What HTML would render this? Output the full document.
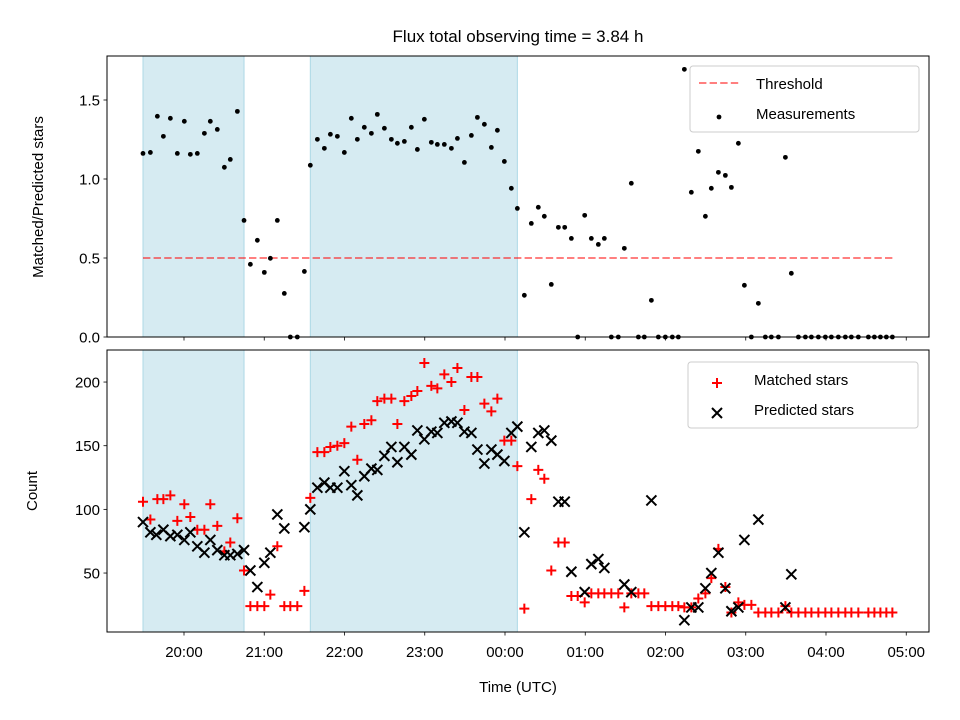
<!DOCTYPE html>
<html><head><meta charset="utf-8"><style>
body{margin:0;background:#fff;}
svg{display:block;font-family:"Liberation Sans","DejaVu Sans",sans-serif;}
</style></head><body>
<svg id="chart" width="960" height="720" viewBox="0 0 960 720">
<rect width="960" height="720" fill="#fff"/>
<text x="518" y="42" font-size="17" text-anchor="middle">Flux total observing time = 3.84 h</text>
<g id="topPanel"></g>
<g id="botPanel"></g>
<text x="518" y="692" font-size="15" text-anchor="middle">Time (UTC)</text>
<text transform="translate(43,197) rotate(-90)" font-size="15" text-anchor="middle">Matched/Predicted stars</text>
<text transform="translate(37,491) rotate(-90)" font-size="15" text-anchor="middle">Count</text>
</svg>
<script>
const shadeSpans=[[19.489,20.748],[21.574,24.154]];
const threshold=0.5;
const ratioTimes=[19.489,19.581,19.668,19.743,19.830,19.917,20.004,20.079,20.166,20.254,20.328,20.415,20.503,20.577,20.665,20.748,20.827,20.914,21.001,21.076,21.163,21.250,21.325,21.412,21.500,21.574,21.662,21.749,21.824,21.911,21.998,22.085,22.160,22.247,22.335,22.409,22.497,22.584,22.659,22.746,22.833,22.908,22.995,23.082,23.157,23.244,23.332,23.407,23.494,23.581,23.656,23.743,23.830,23.905,23.992,24.079,24.154,24.241,24.328,24.415,24.490,24.577,24.665,24.744,24.827,24.906,24.993,25.076,25.163,25.238,25.325,25.412,25.487,25.574,25.662,25.736,25.824,25.911,25.998,26.085,26.160,26.235,26.322,26.409,26.497,26.571,26.659,26.746,26.821,26.908,26.983,27.070,27.157,27.244,27.319,27.407,27.494,27.568,27.656,27.743,27.818,27.905,27.992,28.067,28.154,28.241,28.316,28.403,28.528,28.603,28.678,28.752,28.827];
const ratioValues=[1.162,1.168,1.397,1.270,1.384,1.162,1.365,1.156,1.162,1.289,1.365,1.314,1.074,1.124,1.428,0.738,0.460,0.612,0.409,0.498,0.738,0.276,0,0,0.415,1.087,1.251,1.194,1.283,1.270,1.168,1.384,1.251,1.327,1.289,1.409,1.321,1.251,1.226,1.238,1.327,1.187,1.378,1.232,1.219,1.219,1.194,1.257,1.105,1.276,1.390,1.346,1.200,1.308,1.111,0.941,0.814,0.264,0.719,0.821,0.764,0.333,0.694,0.694,0.624,0,0.770,0.624,0.586,0.624,0,0,0.561,0.973,0,0,0.232,0,0,0,0,1.694,0.916,1.175,0.764,0.941,1.042,1.023,0.947,1.226,0.327,0,0.213,0,0,0,1.137,0.403,0,0,0,0,0,0,0,0,0,0,0,0,0,0,0];
const matchedTimes=ratioTimes;
const matchedValues=[106,92,108,108,111,91,104,94,84,84,104,87,67,74,93,52,24,24,24,33,71,24,24,24,36,109,145,145,149,150,152,165,139,167,170,185,187,187,167,185,189,193,215,197,195,206,200,211,178,204,204,183,177,187,154,154,134,22,108,131,124,52,74,74,32,32,27,34,34,34,34,34,23,34,34,34,24,24,24,24,24,23,23,30,34,46,69,39,19,27,25,25,19,19,19,19,24,19,19,19,19,19,19,19,19,19,19,19,19,19,19,19,19];
const predTimes=[19.489,19.581,19.655,19.743,19.830,19.917,20.004,20.079,20.166,20.254,20.328,20.415,20.503,20.577,20.665,20.748,20.827,20.914,21.001,21.076,21.163,21.250,21.500,21.574,21.662,21.749,21.824,21.911,21.998,22.085,22.160,22.247,22.335,22.409,22.497,22.584,22.659,22.746,22.833,22.908,22.995,23.082,23.157,23.244,23.332,23.407,23.494,23.581,23.656,23.743,23.830,23.905,23.992,24.079,24.154,24.241,24.328,24.415,24.490,24.577,24.665,24.744,24.827,24.993,25.076,25.163,25.238,25.487,25.574,25.824,26.235,26.322,26.409,26.497,26.571,26.659,26.746,26.821,26.908,26.983,27.157,27.494,27.568];
const predValues=[90,82,80,84,79,80,76,82,71,66,76,68,64,64,65,68,52,39,58,66,96,85,86,100,117,121,117,117,130,119,111,126,132,131,142,149,137,149,143,162,155,161,160,168,169,168,161,160,147,136,147,143,138,160,165,82,149,160,162,154,106,106,51,35,57,61,54,41,35,107,13,23,23,38,50,66,38,20,23,76,92,23,49];
const xTicks=[20,21,22,23,24,25,26,27,28,29];
const xTickLabels=["20:00","21:00","22:00","23:00","00:00","01:00","02:00","03:00","04:00","05:00"];
const topTicks=[0,0.5,1.0,1.5];
const topTickLabels=["0.0","0.5","1.0","1.5"];
const botTicks=[50,100,150,200];
const botTickLabels=["50","100","150","200"];

const NS="http://www.w3.org/2000/svg";
const L=107,R=929,T1=56,B1=337,T2=350,B2=632;
const xS=h=>184+(h-20)*80.25;
const yTop=v=>337-v*158;
const yBot=v=>636.7-v*1.2733;
function mk(parent,tag,attrs){const e=document.createElementNS(NS,tag);for(const k in attrs)e.setAttribute(k,attrs[k]);parent.appendChild(e);return e;}
const topG=document.getElementById('topPanel'),botG=document.getElementById('botPanel');

function panel(g,T,B,ticks,labels,yS,showX,name){
  shadeSpans.forEach(s=>{
    const r=mk(g,'rect',{x:xS(s[0]),y:T,width:xS(s[1])-xS(s[0]),height:B-T,fill:'#add8e6','fill-opacity':0.5,stroke:'#add8e6','stroke-width':1});
    
    
  });
  ticks.forEach((t,i)=>{
    const y=yS(t);
    mk(g,'line',{x1:L-3.5,x2:L,y1:y,y2:y,stroke:'#000','stroke-width':0.8});
    const tx=mk(g,'text',{x:L-7,y:y+5.5,'font-size':15,'text-anchor':'end'});
    tx.textContent=labels[i];
    
    
  });
  xTicks.forEach((t,i)=>{
    const x=xS(t);
    mk(g,'line',{x1:x,x2:x,y1:B,y2:B+3.5,stroke:'#000','stroke-width':0.8});
    if(showX){const tx=mk(g,'text',{x:x,y:B+25,'font-size':15,'text-anchor':'middle'});tx.textContent=xTickLabels[i];
      
      }
  });
}
panel(topG,T1,B1,topTicks,topTickLabels,yTop,false,'top');
panel(botG,T2,B2,botTicks,botTickLabels,yBot,true,'bottom');

const th=mk(topG,'line',{x1:xS(ratioTimes[0]),x2:xS(ratioTimes[ratioTimes.length-1]),y1:yTop(threshold),y2:yTop(threshold),stroke:'#ff0000','stroke-opacity':0.5,'stroke-width':2,'stroke-dasharray':'7.4,3.2'});


ratioTimes.forEach((t,i)=>{
  const c=mk(topG,'circle',{cx:xS(t),cy:yTop(ratioValues[i]),r:2.4,fill:'#000'});
  
  
});
matchedTimes.forEach((t,i)=>{
  const x=xS(t),y=yBot(matchedValues[i]);
  const p=mk(botG,'path',{d:`M${x-5} ${y}H${x+5}M${x} ${y-5}V${y+5}`,stroke:'#ff0000','stroke-width':2,fill:'none'});
  
  
});
predTimes.forEach((t,i)=>{
  const x=xS(t),y=yBot(predValues[i]);
  const p=mk(botG,'path',{d:`M${x-5} ${y-5}L${x+5} ${y+5}M${x-5} ${y+5}L${x+5} ${y-5}`,stroke:'#000','stroke-width':2,fill:'none'});
  
  
});
[[T1,B1],[T2,B2]].forEach(f=>{
  const r=mk(document.getElementById('chart'),'rect',{x:L,y:f[0],width:R-L,height:f[1]-f[0],fill:'none',stroke:'#000','stroke-width':1});
  
  
});
function legend(x,y,w,h,entries,name){
  const svg=document.getElementById('chart');
  const g=mk(svg,'g',{});
  
  
  mk(g,'rect',{x:x,y:y,width:w,height:h,rx:3,fill:'#fff','fill-opacity':0.8,stroke:'#ccc','stroke-width':1});
  entries.forEach((e,i)=>{
    const cy=y+17+i*30;
    const mx=x+29;
    if(e.k==='dash')mk(g,'line',{x1:mx-20,x2:mx+20,y1:cy,y2:cy,stroke:'#ff0000','stroke-opacity':0.5,'stroke-width':2,'stroke-dasharray':'7.4,3.2'});
    if(e.k==='dot')mk(g,'circle',{cx:mx,cy:cy+4,r:2.4,fill:'#000'});
    if(e.k==='plus')mk(g,'path',{d:`M${mx-5} ${cy+4}H${mx+5}M${mx} ${cy-1}V${cy+9}`,stroke:'#ff0000','stroke-width':2});
    if(e.k==='x')mk(g,'path',{d:`M${mx-5} ${cy-1}L${mx+5} ${cy+9}M${mx-5} ${cy+9}L${mx+5} ${cy-1}`,stroke:'#000','stroke-width':2});
    const t=mk(g,'text',{x:x+66,y:cy+6,'font-size':15});t.textContent=e.t;
    
    
  });
}
legend(690,66,229,66,[{k:'dash',t:'Threshold'},{k:'dot',t:'Measurements'}],'top-legend');
legend(688,362,230,66,[{k:'plus',t:'Matched stars'},{k:'x',t:'Predicted stars'}],'bottom-legend');
</script>
</body></html>
